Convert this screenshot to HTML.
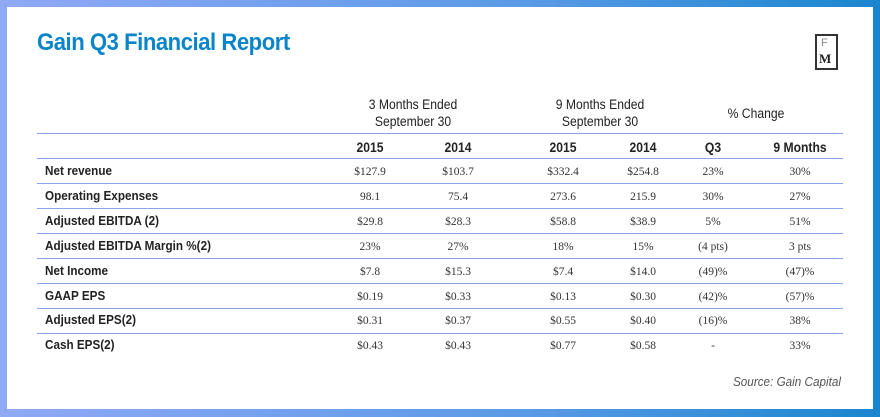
<!DOCTYPE html>
<html><head><meta charset="utf-8"><style>
*{margin:0;padding:0;box-sizing:border-box}
body{width:880px;height:417px;overflow:hidden;background:linear-gradient(90deg,#8fa9f5 0%,#5a9ae6 60%,#1a86cf 100%);position:relative;font-family:"Liberation Sans",sans-serif}
#card{position:absolute;left:7px;top:7px;width:866px;height:402px;background:#fff}
.t{position:absolute;white-space:nowrap}
.title{left:37px;top:29px;font-size:24px;font-weight:bold;color:#0b85c9;letter-spacing:-0.5px;transform:scaleX(0.92);transform-origin:left}
.hl{position:absolute;left:37px;width:806px;height:1px;background:#8aa4e6}
.lbl{left:45px;font-size:13px;font-weight:bold;color:#222;transform:scaleX(0.9);transform-origin:left}
.h{font-size:13.5px;color:#222;text-align:center;width:160px;transform:translateX(-80px) scaleX(0.9);line-height:17px}
.hb{font-weight:bold}
.v{font-family:"Liberation Serif",serif;font-size:11.5px;color:#333;text-align:center;width:100px;transform:translateX(-50px)}
</style></head><body>
<div id="card"></div>
<div class="t title">Gain Q3 Financial Report</div>
<div style="position:absolute;left:815px;top:34px;width:23px;height:36px;border:2px solid #333;background:#fff"></div>
<div class="t" style="left:821px;top:37px;font-size:11px;color:#888">F</div>
<div class="t" style="left:819px;top:51px;font-size:13px;font-weight:bold;font-family:'Liberation Serif',serif;color:#222">M</div>

<div class="t h" style="left:413px;top:96px">3 Months Ended<br>September 30</div>
<div class="t h" style="left:600px;top:96px">9 Months Ended<br>September 30</div>
<div class="t h" style="left:756px;top:105px">% Change</div>

<div class="hl" style="top:133px"></div>
<div class="hl" style="top:158px"></div>
<div class="hl" style="top:183px"></div>
<div class="hl" style="top:208px"></div>
<div class="hl" style="top:233px"></div>
<div class="hl" style="top:258px"></div>
<div class="hl" style="top:283px"></div>
<div class="hl" style="top:308px"></div>
<div class="hl" style="top:333px"></div>

<div class="t h hb" style="left:370px;top:139px">2015</div>
<div class="t h hb" style="left:458px;top:139px">2014</div>
<div class="t h hb" style="left:563px;top:139px">2015</div>
<div class="t h hb" style="left:643px;top:139px">2014</div>
<div class="t h hb" style="left:713px;top:139px">Q3</div>
<div class="t h hb" style="left:800px;top:139px">9 Months</div>

<div class="t lbl" style="top:163px">Net revenue</div>
<div class="t lbl" style="top:188px">Operating Expenses</div>
<div class="t lbl" style="top:213px">Adjusted EBITDA (2)</div>
<div class="t lbl" style="top:238px">Adjusted EBITDA Margin %(2)</div>
<div class="t lbl" style="top:263px">Net Income</div>
<div class="t lbl" style="top:288px">GAAP EPS</div>
<div class="t lbl" style="top:312px">Adjusted EPS(2)</div>
<div class="t lbl" style="top:337px">Cash EPS(2)</div>

<div class="t v" style="left:370px;top:166px">$127.9</div><div class="t v" style="left:458px;top:166px">$103.7</div><div class="t v" style="left:563px;top:166px">$332.4</div><div class="t v" style="left:643px;top:166px">$254.8</div><div class="t v" style="left:713px;top:166px">23%</div><div class="t v" style="left:800px;top:166px">30%</div>
<div class="t v" style="left:370px;top:191px">98.1</div><div class="t v" style="left:458px;top:191px">75.4</div><div class="t v" style="left:563px;top:191px">273.6</div><div class="t v" style="left:643px;top:191px">215.9</div><div class="t v" style="left:713px;top:191px">30%</div><div class="t v" style="left:800px;top:191px">27%</div>
<div class="t v" style="left:370px;top:216px">$29.8</div><div class="t v" style="left:458px;top:216px">$28.3</div><div class="t v" style="left:563px;top:216px">$58.8</div><div class="t v" style="left:643px;top:216px">$38.9</div><div class="t v" style="left:713px;top:216px">5%</div><div class="t v" style="left:800px;top:216px">51%</div>
<div class="t v" style="left:370px;top:241px">23%</div><div class="t v" style="left:458px;top:241px">27%</div><div class="t v" style="left:563px;top:241px">18%</div><div class="t v" style="left:643px;top:241px">15%</div><div class="t v" style="left:713px;top:241px">(4 pts)</div><div class="t v" style="left:800px;top:241px">3 pts</div>
<div class="t v" style="left:370px;top:266px">$7.8</div><div class="t v" style="left:458px;top:266px">$15.3</div><div class="t v" style="left:563px;top:266px">$7.4</div><div class="t v" style="left:643px;top:266px">$14.0</div><div class="t v" style="left:713px;top:266px">(49)%</div><div class="t v" style="left:800px;top:266px">(47)%</div>
<div class="t v" style="left:370px;top:291px">$0.19</div><div class="t v" style="left:458px;top:291px">$0.33</div><div class="t v" style="left:563px;top:291px">$0.13</div><div class="t v" style="left:643px;top:291px">$0.30</div><div class="t v" style="left:713px;top:291px">(42)%</div><div class="t v" style="left:800px;top:291px">(57)%</div>
<div class="t v" style="left:370px;top:315px">$0.31</div><div class="t v" style="left:458px;top:315px">$0.37</div><div class="t v" style="left:563px;top:315px">$0.55</div><div class="t v" style="left:643px;top:315px">$0.40</div><div class="t v" style="left:713px;top:315px">(16)%</div><div class="t v" style="left:800px;top:315px">38%</div>
<div class="t v" style="left:370px;top:340px">$0.43</div><div class="t v" style="left:458px;top:340px">$0.43</div><div class="t v" style="left:563px;top:340px">$0.77</div><div class="t v" style="left:643px;top:340px">$0.58</div><div class="t v" style="left:713px;top:340px">-</div><div class="t v" style="left:800px;top:340px">33%</div>

<div class="t" style="right:39px;top:374px;font-size:13px;font-style:italic;color:#555;transform:scaleX(0.9);transform-origin:right">Source: Gain Capital</div>
</body></html>
